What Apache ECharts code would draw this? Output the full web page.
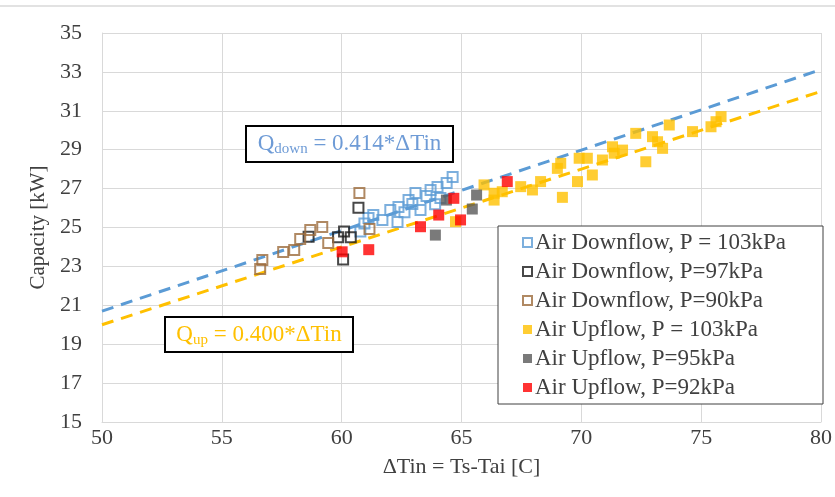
<!DOCTYPE html>
<html>
<head>
<meta charset="utf-8">
<script src="https://cdn.jsdelivr.net/npm/echarts@6/dist/echarts.min.js"></script>
<style>html,body{margin:0;padding:0;background:#fff}#c{width:835px;height:497px}</style>
</head>
<body>
<div id="c"></div>
<script>
// ---- data ----
const xTicks = [50, 55, 60, 65, 70, 75, 80];
const yTicks = [15, 17, 19, 21, 23, 25, 27, 29, 31, 33, 35];

const seriesNames = [
  'Air Downflow, P = 103kPa',
  'Air Downflow, P=97kPa',
  'Air Downflow, P=90kPa',
  'Air Upflow, P = 103kPa',
  'Air Upflow, P=95kPa',
  'Air Upflow, P=92kPa'
];

const downflow103 = [[60.78,24.79],[60.95,25.20],[61.12,25.49],[61.32,25.64],[61.70,25.39],[62.03,25.90],[62.33,25.28],[62.37,26.05],[62.62,25.79],[62.79,26.41],[62.95,26.21],[63.08,26.77],[63.29,25.90],[63.54,26.62],[63.71,26.93],[64.00,27.08],[64.12,26.52],[64.38,27.29],[64.63,27.60],[63.90,26.20]];
const downflow97 = [[58.62,24.53],[59.85,24.50],[60.38,24.50],[60.06,23.35],[60.70,26.02],[60.10,24.80]];
const downflow90 = [[56.60,22.87],[56.69,23.33],[57.56,23.74],[58.02,23.84],[58.27,24.41],[58.69,24.87],[59.19,25.03],[59.44,24.20],[60.74,26.77],[61.16,24.92]];
const upflow103 = [[64.75,25.30],[65.94,27.19],[66.36,26.76],[66.36,26.41],[66.70,26.84],[67.47,27.10],[67.96,26.93],[68.30,27.36],[69.00,28.04],[69.14,28.30],[69.21,26.55],[69.84,27.36],[69.91,28.56],[70.25,28.56],[70.46,27.70],[70.88,28.47],[71.30,29.15],[71.37,28.82],[71.72,28.98],[72.27,29.84],[72.69,28.38],[72.97,29.67],[73.18,29.41],[73.39,29.07],[73.67,30.27],[74.64,29.93],[75.41,30.18],[75.62,30.44],[75.83,30.70]];
const upflow95 = [[63.91,24.61],[64.37,26.41],[65.45,25.95],[65.63,26.67]];
const upflow92 = [[60.02,23.75],[61.13,23.86],[63.29,25.04],[64.05,25.64],[64.68,26.50],[64.96,25.39],[66.91,27.36]];

// trend lines: Qdown = 0.414*dTin, Qup = 0.400*dTin (end points)
const trendDown = [[50, 20.70], [80, 33.12]];
const trendUp = [[50, 20.00], [80, 32.00]];

const annDown = ['Q', 'down', ' = 0.414*ΔTin'];
const annUp = ['Q', 'up', ' = 0.400*ΔTin'];

// ---- styling ----
const FONT = '"Liberation Serif", "Times New Roman", serif';
const TXT = '#404040';
const BLUE = '#5B9BD5';
const GOLD = '#FFC000';

const chart = echarts.init(document.getElementById('c'), null, {renderer: 'canvas'});

function hollow(name, data, color) {
  return {
    name, type: 'scatter', data, symbol: 'rect', symbolSize: 10,
    itemStyle: {color: 'rgba(255,255,255,0)', borderColor: color, borderWidth: 2},
    emphasis: {disabled: true}, z: 3
  };
}
function filled(name, data, color) {
  return {
    name, type: 'scatter', data, symbol: 'rect', symbolSize: 11,
    itemStyle: {color: color}, emphasis: {disabled: true}, z: 3
  };
}
function trend(data, color) {
  return {
    type: 'line', data, symbol: 'none', silent: true,
    lineStyle: {color, width: 3, type: [12, 8]}, z: 2
  };
}
function annotation(parts, color, cx, cy) {
  return {type: 'text', x: cx, y: cy, z: 6,
    style: {text: '{q|' + parts[0] + '}{s|' + parts[1] + '}{t|' + parts[2] + '}',
      align: 'center', verticalAlign: 'middle', fill: color, fontFamily: FONT,
      rich: {q: {fontSize: 23, lineHeight: 26, fontFamily: FONT, fill: color},
             s: {fontSize: 15, lineHeight: 15, verticalAlign: 'bottom', padding: [8, 0, 0, 0], fontFamily: FONT, fill: color},
             t: {fontSize: 23, lineHeight: 26, fontFamily: FONT, fill: color}}}};
}

const option = {
  backgroundColor: '#fff',
  animation: false,
  textStyle: {fontFamily: FONT},
  grid: {left: 102, right: 14, top: 33, bottom: 75},
  xAxis: {
    type: 'value', min: xTicks[0], max: xTicks[xTicks.length - 1], interval: 5,
    name: 'ΔTin = Ts-Tai [C]', nameLocation: 'middle', nameGap: 34,
    nameTextStyle: {fontFamily: FONT, fontSize: 22, color: TXT},
    axisLine: {show: true, lineStyle: {color: '#D9D9D9', width: 1}},
    axisTick: {show: false},
    axisLabel: {fontFamily: FONT, fontSize: 22, color: TXT, margin: 5},
    splitLine: {show: true, lineStyle: {color: '#D9D9D9', width: 1}}
  },
  yAxis: {
    type: 'value', min: yTicks[0], max: yTicks[yTicks.length - 1], interval: 2,
    name: 'Capacity [kW]', nameLocation: 'middle', nameGap: 51, nameRotate: 90,
    nameTextStyle: {fontFamily: FONT, fontSize: 21, color: TXT},
    axisLine: {show: true, lineStyle: {color: '#D9D9D9', width: 1}},
    axisTick: {show: false},
    axisLabel: {fontFamily: FONT, fontSize: 22, color: TXT, margin: 20},
    splitLine: {show: true, lineStyle: {color: '#D9D9D9', width: 1}}
  },
  legend: {
    orient: 'vertical', left: 522, top: 231, padding: 0,
    itemWidth: 9, itemHeight: 9, itemGap: 6, z: 10,
    data: seriesNames,
    textStyle: {fontFamily: FONT, fontSize: 23, color: TXT, lineHeight: 23, padding: [0, 0, 0, -2]},
    selectedMode: false
  },
  graphic: [
    {type: 'line', shape: {x1: 0, y1: 6, x2: 835, y2: 6}, style: {stroke: '#D9D9D9', lineWidth: 1.5}, z: 1},
    {type: 'rect', shape: {x: 498, y: 226, width: 325, height: 178}, style: {fill: '#fff', stroke: '#404040', lineWidth: 1}, z: 5},
    {type: 'rect', shape: {x: 246, y: 126, width: 207, height: 36}, style: {fill: '#fff', stroke: '#000', lineWidth: 2}, z: 5},
    annotation(annDown, '#6E9BD6', 349.5, 144),
    {type: 'rect', shape: {x: 165, y: 317, width: 188, height: 35}, style: {fill: '#fff', stroke: '#000', lineWidth: 2}, z: 5},
    annotation(annUp, GOLD, 259, 334.5)
  ],
  series: [
    trend(trendDown, BLUE),
    trend(trendUp, GOLD),
    hollow(seriesNames[0], downflow103, BLUE),
    hollow(seriesNames[1], downflow97, '#1a1a1a'),
    hollow(seriesNames[2], downflow90, '#9C6B3C'),
    filled(seriesNames[3], upflow103, GOLD),
    filled(seriesNames[4], upflow95, '#595959'),
    filled(seriesNames[5], upflow92, '#FF0000')
  ]
};
chart.setOption(option);
</script>
</body>
</html>
